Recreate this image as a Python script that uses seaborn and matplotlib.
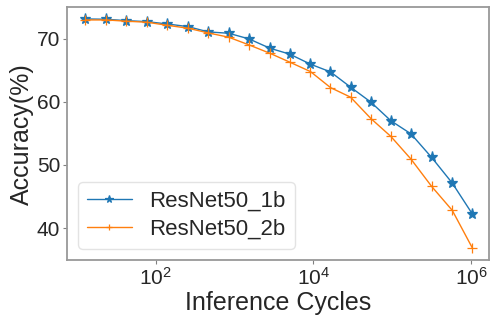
import numpy as np
import pandas as pd
import matplotlib
matplotlib.use("Agg")
import matplotlib.pyplot as plt
import seaborn as sns

cycles = [12.9, 23.7, 42.5, 77.6, 139, 257, 467, 845, 1531, 2805, 5036, 9204,
          16500, 29650, 53700, 96400, 173000, 317000, 578000, 1040000]
acc_1b = [73.17, 73.12, 72.90, 72.74, 72.38, 71.95, 71.11, 70.90, 70.0, 68.53,
          67.58, 65.99, 64.77, 62.35, 59.97, 57.01, 54.94, 51.19, 47.13, 42.22]
acc_2b = [73.01, 73.01, 72.81, 72.65, 72.17, 71.70, 70.95, 70.27, 69.05, 67.73,
          66.31, 64.82, 62.28, 60.76, 57.37, 54.52, 50.94, 46.59, 42.80, 36.83]
series_names = ["ResNet50_1b", "ResNet50_2b"]
xticks = [1e2, 1e4, 1e6]
yticks = [40, 50, 60, 70]

sns.set_style("white")
plt.rcParams['font.family'] = ['Liberation Sans', 'DejaVu Sans']

fig, ax = plt.subplots(figsize=(4.9, 3.22), dpi=100)
for name, vals, mk, col, ms in zip(series_names, [acc_1b, acc_2b], ["*", "+"],
                                   ["#1f77b4", "#ff7f0e"], [8, 7]):
    d = pd.DataFrame({"cycles": cycles, "acc": vals})
    sns.lineplot(data=d, x="cycles", y="acc", marker=mk, color=col, label=name,
                 ax=ax, markersize=ms, linewidth=1.0, markeredgewidth=0.9,
                 markeredgecolor=col)
ax.set_xscale("log")
ax.set_xticks(xticks)
ax.xaxis.set_minor_locator(matplotlib.ticker.NullLocator())
ax.set_yticks(yticks)
ax.set_ylim(34.95, 75.0)
ax.set_xlim(10**0.878, 10**6.228)
ax.set_xlabel("Inference Cycles", fontsize=18, labelpad=2)
ax.set_ylabel("Accuracy(%)", fontsize=18, labelpad=2)
ax.tick_params(axis="both", labelsize=15, length=3, width=0.8, color="#808080",
               bottom=True, left=True, pad=2)
for s in ax.spines.values():
    s.set_color("#999999")
    s.set_linewidth(1.3)
leg = ax.legend(loc="lower left", fontsize=16, frameon=True, borderpad=0.4,
                handlelength=2.0, markerscale=0.7, labelspacing=0.3)
leg.get_frame().set_edgecolor("#dddddd")
fig.subplots_adjust(left=0.137, right=0.998, top=0.977, bottom=0.193)
fig.savefig("out.png", dpi=100)
